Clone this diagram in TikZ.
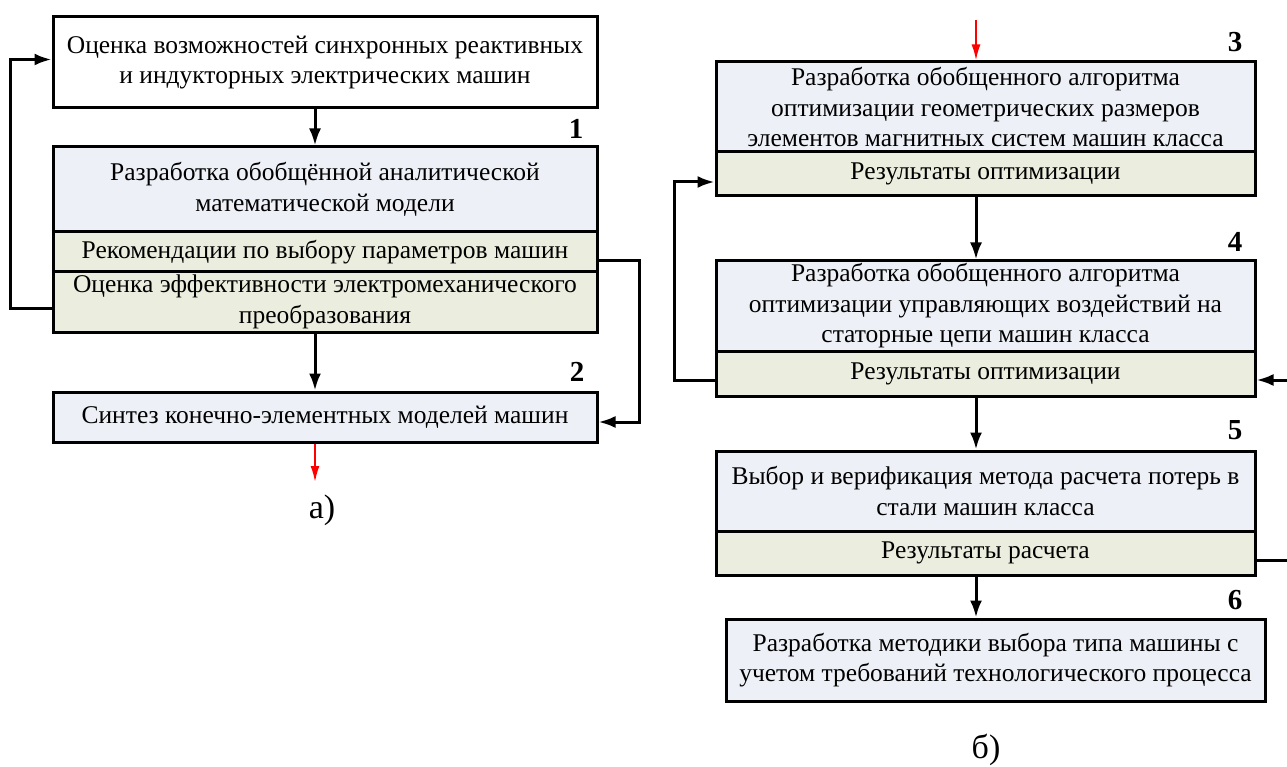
\documentclass[tikz,border=0pt]{standalone}
\usepackage{fontspec}
\setmainfont{Liberation Serif}
\usetikzlibrary{arrows.meta}
\definecolor{boxblue}{RGB}{237,240,246}
\definecolor{boxgreen}{RGB}{235,238,222}
\begin{document}
\begin{tikzpicture}[x=1pt,y=-1pt,
  blk/.style={draw,line width=3pt,inner sep=0pt,align=center,
    font=\fontsize{25.5}{30.5}\selectfont},
  lwide/.style={blk,minimum width=544pt},
  rwide/.style={blk,minimum width=539pt},
  conn/.style={line width=3pt,-{Latex[length=17pt,width=12pt]}},
  redin/.style={red,line width=2pt,-{Latex[length=16pt,width=9pt]}},
  num/.style={font=\fontsize{29}{30}\selectfont\bfseries},
  subcap/.style={font=\fontsize{34}{36}\selectfont}
]
\useasboundingbox (0,0) rectangle (1287,767);
\node (eval) at (325,62.5) [lwide,minimum height=91pt,fill=white]
  {Оценка возможностей синхронных реактивных\\и индукторных электрических машин};
\node (mod) at (325,189.5) [lwide,minimum height=85pt,fill=boxblue]
  {Разработка обобщённой аналитической\\математической модели};
\node (rec) at (325,252) [lwide,minimum height=40pt,fill=boxgreen]
  {Рекомендации по выбору параметров машин};
\node (eff) at (325,302) [lwide,minimum height=60pt,fill=boxgreen]
  {Оценка эффективности электромеханического\\преобразования};
\node (fem) at (325,417) [lwide,minimum height=50pt,fill=boxblue]
  {Синтез конечно-элементных моделей машин};
\node (n1) at (576,129) [num] {1};
\node (n2) at (577,372) [num] {2};
\coordinate (outa) at (315,482);
\draw[conn] ([xshift=-10pt]eval.south) -- ([xshift=-10pt]mod.north);
\draw[conn] ([xshift=-10pt]eff.south) -- ([xshift=-10pt]fem.north);
\draw[redin] ([xshift=-10pt]fem.south) -- (outa);
\draw[conn] ([yshift=-6pt]eff.west) -- ++(-41,0) |- ([yshift=3pt]eval.west);
\draw[conn] ([yshift=-9pt]rec.east) -- ++(41,0) |- ([yshift=-5pt]fem.east);
\node (capa) at (322,510) [subcap] {а)};

\node (geo) at (985.5,107) [rwide,minimum height=90pt,fill=boxblue]
  {Разработка обобщенного алгоритма\\оптимизации геометрических размеров\\элементов магнитных систем машин класса};
\node (res3) at (985.5,174) [rwide,minimum height=44pt,fill=boxgreen]
  {Результаты оптимизации};
\node (ctl) at (985.5,306) [rwide,minimum height=90pt,fill=boxblue]
  {Разработка обобщенного алгоритма\\оптимизации управляющих воздействий на\\статорные цепи машин класса};
\node (res4) at (985.5,373.5) [rwide,minimum height=45pt,fill=boxgreen]
  {Результаты оптимизации};
\node (loss) at (985.5,491) [rwide,minimum height=80pt,fill=boxblue]
  {Выбор и верификация метода расчета потерь в\\стали машин класса};
\node (res5) at (985.5,553) [rwide,minimum height=44pt,fill=boxgreen]
  {Результаты расчета};
\node (meth) at (995.5,660) [rwide,minimum height=82pt,fill=boxblue]
  {Разработка методики выбора типа машины с\\учетом требований технологического процесса};
\node (n3) at (1235,42) [num] {3};
\node (n4) at (1235,242) [num] {4};
\node (n5) at (1235,430) [num] {5};
\node (n6) at (1235,600) [num] {6};
\coordinate (inb) at (976,20);
\draw[redin] (inb) -- ([xshift=-9.5pt]geo.north);
\draw[conn] ([xshift=-9.5pt]res3.south) -- ([xshift=-9.5pt]ctl.north);
\draw[conn] ([xshift=-9.5pt]res4.south) -- ([xshift=-9.5pt]loss.north);
\draw[conn] ([xshift=-9.5pt]res5.south) -- ([xshift=-9.5pt]res5.south |- meth.north);
\draw[conn] ([yshift=-6.5pt]res4.west) -- ++(-40,0) |- ([yshift=-8pt]res3.west);
\draw[conn] ([yshift=-7pt]res5.east) -- ++(40,0) |- ([yshift=-6.5pt]res4.east);
\node (capb) at (986,750) [subcap] {б)};
\end{tikzpicture}
\end{document}
